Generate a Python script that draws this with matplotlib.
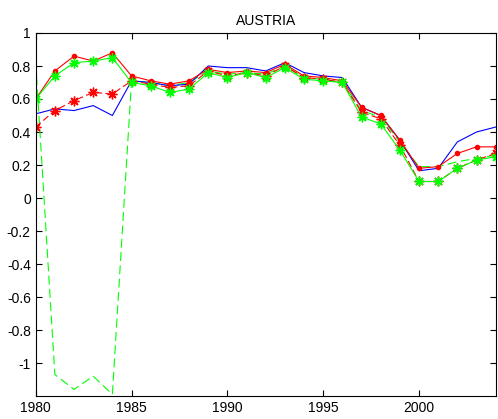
import numpy as np
import matplotlib.pyplot as plt

plt.rcParams['font.family'] = ['Liberation Sans', 'DejaVu Sans']
plt.rcParams['axes.unicode_minus'] = False

years = np.arange(1980, 2005)

# blue, no markers
blue = [0.51, 0.54, 0.53, 0.56, 0.50, 0.71, 0.70, 0.68, 0.69, 0.80, 0.79, 0.79, 0.77,
        0.82, 0.76, 0.74, 0.73, 0.55, 0.50, 0.35, 0.165, 0.18, 0.34, 0.40, 0.43]
# red with dots
red_dot = [0.60, 0.77, 0.86, 0.83, 0.88, 0.74, 0.71, 0.69, 0.71, 0.78, 0.76, 0.77, 0.76,
           0.81, 0.74, 0.73, 0.71, 0.55, 0.50, 0.35, 0.18, 0.19, 0.27, 0.31, 0.31]
# red dashed with asterisks
red_star = [0.43, 0.53, 0.59, 0.64, 0.63, 0.71, 0.69, 0.67, 0.68, 0.77, 0.74, 0.76, 0.74,
            0.80, 0.73, 0.72, 0.70, 0.52, 0.48, 0.32, 0.10, 0.10, 0.18, 0.23, 0.27]
# green with asterisks
green_star = [0.60, 0.74, 0.82, 0.83, 0.85, 0.70, 0.68, 0.64, 0.66, 0.76, 0.73, 0.76, 0.73,
              0.79, 0.72, 0.71, 0.70, 0.49, 0.45, 0.29, 0.10, 0.10, 0.18, 0.23, 0.25]
# green dashed, no markers
green_dash = [0.82, -1.07, -1.16, -1.08, -1.19, 0.71, 0.70, 0.68, 0.70, 0.77, 0.75, 0.76, 0.75,
              0.80, 0.73, 0.72, 0.70, 0.53, 0.49, 0.34, 0.19, 0.19, 0.22, 0.24, 0.26]

ytick_vals = [-1, -0.8, -0.6, -0.4, -0.2, 0, 0.2, 0.4, 0.6, 0.8, 1]

fig = plt.figure(figsize=(4.98, 4.19), dpi=100)
ax = fig.add_axes([35.7 / 498, 23 / 419, 460 / 498, 363 / 419])

asterisk = (8, 2, 0)
ax.plot(years, green_dash, color='#00ff00', lw=0.8, ls=(0, (8, 4)))
ax.plot(years, blue, color='#0000ff', lw=0.8)
ax.plot(years, red_star, color='#ff0000', lw=0.8, ls=(0, (6, 3)), marker=asterisk, ms=7, mew=1)
ax.plot(years, red_dot, color='#ff0000', lw=0.8, marker='.', ms=6)
ax.plot(years, green_star, color='#00ff00', lw=0.8, marker=asterisk, ms=7, mew=1)

ax.set_xlim(1980, 2004)
ax.set_ylim(-1.2, 1)
ax.set_xticks([1980, 1985, 1990, 1995, 2000])
ax.set_yticks(ytick_vals)
ax.set_yticklabels(['%g' % v for v in ytick_vals])
ax.tick_params(direction='in', top=True, right=True, labelsize=10, length=4, width=0.8)
for s in ax.spines.values():
    s.set_linewidth(0.8)
ax.set_title('AUSTRIA', fontsize=10, pad=6)

fig.savefig('out.png', dpi=100)
